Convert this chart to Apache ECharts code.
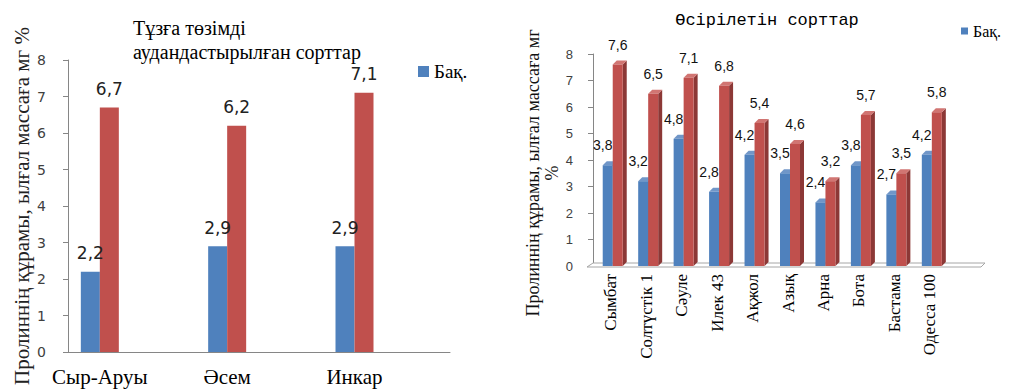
<!DOCTYPE html>
<html lang="kk">
<head>
<meta charset="utf-8">
<title>Пролиннің құрамы</title>
<script src="https://cdn.jsdelivr.net/npm/echarts@6/dist/echarts.min.js"></script>
<style>
    html, body { margin: 0; padding: 0; background: #fff; }
    #app { width: 1029px; height: 390px; }
</style>
</head>
<body>
<div id="app"></div>
<script>
// тұзға төзімді аудандастырылған сорттар
const zonedSorts = ['Сыр-Аруы', 'Әсем', 'Инкар'];
const zonedControl = [2.2, 2.9, 2.9];
const zonedSalt = [6.7, 6.2, 7.1];

// өсірілетін сорттар
const grownSorts = ['Сымбат', 'Солтүстік 1', 'Сәуле', 'Илек 43', 'Ақжол', 'Азық', 'Арна', 'Бота', 'Бастама', 'Одесса 100'];
const grownControl = [3.8, 3.2, 4.8, 2.8, 4.2, 3.5, 2.4, 3.8, 2.7, 4.2];
const grownSalt = [7.6, 6.5, 7.1, 6.8, 5.4, 4.6, 3.2, 5.7, 3.5, 5.8];

const yTicks = [0, 1, 2, 3, 4, 5, 6, 7, 8];

const BLUE = '#4F81BD';
const RED = '#C0504D';
const AXIS_GREY = '#868686';
const SERIF = '"Liberation Serif", "Times New Roman", "DejaVu Serif", serif';
const MONO = '"Liberation Mono", "Courier New", monospace';
const Y_NAME = 'Пролиннің құрамы, ылғал массаға мг';

const comma = v => String(v).replace('.', ',');

// Excel left an empty half-slot after each group, so pad the axis with blanks
const zonedAxis = zonedSorts.flatMap(name => [name, '']);
const pad = arr => arr.flatMap(v => [v, '-']);

const chart = echarts.init(document.getElementById('app'), null, {renderer: 'svg'});

// simple oblique 3D column, like Excel's "3-D clustered column"
const DEPTH = 4;
const COL_W = 10;
const column3d = (shift, labelShift, front, side, top) => (params, api) => {
    const val = api.value(1);
    const base = api.coord([api.value(0), 0]);
    const head = api.coord([api.value(0), val]);
    const x0 = base[0] + shift;
    const x1 = x0 + COL_W;
    const y0 = base[1];
    const y1 = head[1];
    return {
        type: 'group',
        children: [
            {
                type: 'polygon',
                shape: {points: [[x1, y0], [x1 + DEPTH, y0 - DEPTH], [x1 + DEPTH, y1 - DEPTH], [x1, y1]]},
                style: {fill: side}
            },
            {
                type: 'polygon',
                shape: {points: [[x0, y1], [x1, y1], [x1 + DEPTH, y1 - DEPTH], [x0 + DEPTH, y1 - DEPTH]]},
                style: {fill: top}
            },
            {
                type: 'rect',
                shape: {x: x0, y: y1, width: COL_W, height: y0 - y1},
                style: {fill: front}
            },
            {
                type: 'text',
                x: x0 + COL_W / 2 + labelShift,
                y: y1 - 20,
                style: {
                    text: comma(val),
                    fill: '#111',
                    fontFamily: 'Liberation Sans',
                    fontSize: 14,
                    align: 'center',
                    verticalAlign: 'middle'
                }
            }
        ]
    };
};

const floor = (params) => {
    const cs = params.coordSys;
    const x = cs.x, y = cs.y + cs.height, w = cs.width;
    return {
        type: 'polygon',
        shape: {points: [[x - 6, y + 1], [x + w - 2, y + 1], [x + w + 2, y - 3], [x, y - 3]]},
        style: {fill: '#fff', stroke: '#a6a6a6', lineWidth: 1}
    };
};

const yAxisBase = {
    type: 'value',
    min: yTicks[0],
    max: yTicks[yTicks.length - 1],
    interval: 1,
    splitLine: {show: false},
    axisLine: {show: true, lineStyle: {color: AXIS_GREY}},
    axisTick: {show: true, length: 5, lineStyle: {color: AXIS_GREY}},
    nameLocation: 'middle'
};

const option = {
    animation: false,
    title: [
        {
            text: 'Тұзға төзімді\nаудандастырылған сорттар',
            left: 128,
            top: 11,
            textStyle: {fontFamily: SERIF, fontSize: 20, fontWeight: 'normal', color: '#000', lineHeight: 24}
        },
        {
            text: 'Өсірілетін сорттар',
            left: 762,
            top: 7,
            textAlign: 'center',
            textStyle: {fontFamily: MONO, fontSize: 17, fontWeight: 'normal', color: '#000'}
        }
    ],
    legend: [
        {
            data: ['Бақ.'],
            left: 413,
            top: 57,
            icon: 'rect',
            itemWidth: 11,
            itemHeight: 11,
            textStyle: {fontFamily: SERIF, fontSize: 19, color: '#000'}
        },
        {
            data: ['Бақ.'],
            left: 956,
            top: 18,
            icon: 'rect',
            itemWidth: 7,
            itemHeight: 7,
            textStyle: {fontFamily: SERIF, fontSize: 16, color: '#000'}
        }
    ],
    grid: [
        {left: 68, top: 60, width: 382, height: 292, containLabel: false, outerBoundsMode: 'none'},
        {left: 593, top: 54, width: 390, height: 212, containLabel: false, outerBoundsMode: 'none'}
    ],
    xAxis: [
        {
            type: 'category',
            gridIndex: 0,
            data: zonedAxis,
            axisLine: {show: true, lineStyle: {color: AXIS_GREY}},
            axisTick: {show: false},
            axisLabel: {interval: 0, margin: 14, fontFamily: SERIF, fontSize: 21, color: '#000'}
        },
        {
            type: 'category',
            gridIndex: 1,
            data: grownSorts,
            max: grownSorts.length,
            axisLine: {show: false},
            axisTick: {show: false},
            axisLabel: {
                interval: 0,
                rotate: 90,
                margin: 8,
                fontFamily: SERIF,
                fontSize: 17,
                color: '#000',
                formatter: (value, index) => grownSorts[index] ?? ''
            }
        }
    ],
    yAxis: [
        {
            ...yAxisBase,
            gridIndex: 0,
            name: Y_NAME + ' %',
            nameGap: 36,
            nameTextStyle: {fontFamily: SERIF, fontSize: 21, color: '#222'},
            axisLabel: {margin: 22, fontFamily: 'DejaVu Sans', fontSize: 14, color: '#404040'}
        },
        {
            ...yAxisBase,
            gridIndex: 1,
            name: Y_NAME + '\n%',
            nameGap: 28,
            nameTextStyle: {fontFamily: SERIF, fontSize: 18, color: '#111', lineHeight: 19, padding: [0, 26, 0, 0]},
            axisLabel: {margin: 20, fontFamily: 'Liberation Sans', fontSize: 13, color: '#404040'}
        }
    ],
    series: [
        {
            name: 'Бақ.',
            type: 'bar',
            xAxisIndex: 0,
            yAxisIndex: 0,
            data: pad(zonedControl),
            barWidth: 19,
            barGap: '0%',
            itemStyle: {color: BLUE},
            label: {
                show: true, position: 'top', distance: 10,
                formatter: p => comma(p.value),
                fontFamily: 'DejaVu Sans', fontSize: 17, color: '#222'
            }
        },
        {
            name: 'Тұз',
            type: 'bar',
            xAxisIndex: 0,
            yAxisIndex: 0,
            data: pad(zonedSalt),
            barWidth: 19,
            barGap: '0%',
            itemStyle: {color: RED},
            label: {
                show: true, position: 'top', distance: 10,
                formatter: p => comma(p.value),
                fontFamily: 'DejaVu Sans', fontSize: 17, color: '#222'
            }
        },
        {
            name: 'floor',
            type: 'custom',
            xAxisIndex: 1,
            yAxisIndex: 1,
            silent: true,
            renderItem: floor,
            encode: {x: 0, y: 1},
            data: [[0, 0]]
        },
        {
            name: 'Бақ.',
            type: 'custom',
            xAxisIndex: 1,
            yAxisIndex: 1,
            itemStyle: {color: BLUE},
            renderItem: column3d(-8, -5, BLUE, '#385D8A', '#7096C8'),
            encode: {x: 0, y: 1},
            data: grownControl.map((v, i) => [i, v])
        },
        {
            name: 'Тұз',
            type: 'custom',
            xAxisIndex: 1,
            yAxisIndex: 1,
            itemStyle: {color: RED},
            renderItem: column3d(2, 0, RED, '#8C3836', '#D17572'),
            encode: {x: 0, y: 1},
            data: grownSalt.map((v, i) => [i, v])
        }
    ]
};

chart.setOption(option);
addEventListener('resize', () => chart.resize());
</script>
</body>
</html>
